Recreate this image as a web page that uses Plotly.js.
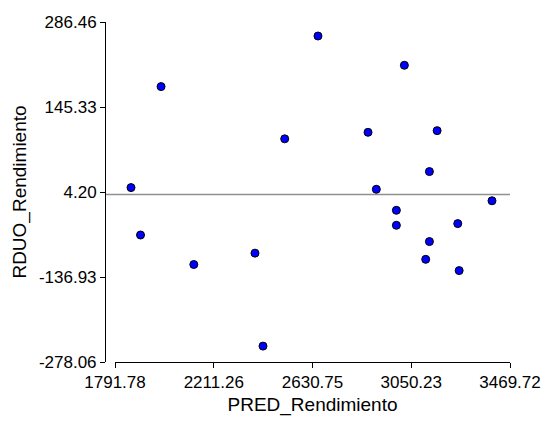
<!DOCTYPE html>
<html>
<head>
<meta charset="utf-8">
<script src="https://cdn.plot.ly/plotly-3.0.1.min.js"></script>
<style>html,body{margin:0;padding:0;background:#fff;}#chart{width:547px;height:421px;}</style>
</head>
<body>
<div id="chart"></div>
<script>
// Predicted values (x) and residuals (y)
const predRendimiento = [1859.8, 1900.2, 1987.4, 2126.5, 2386.4, 2420.5, 2512.7, 2654.0, 2866.6, 2901.9,
                         2987.0, 2987.0, 3021.0, 3111.6, 3127.4, 3127.4, 3160.1, 3247.8, 3253.7, 3393.2];
const rduoRendimiento = [11.5, -67.2, 179.2, -116.2, -97.3, -251.7, 92.5, 263.2, 103.3, 8.7,
                         -26.2, -51.1, 214.6, -107.6, 38.1, -78.1, 106.1, -48.3, -126.3, -10.4];
const xTickVals = [1791.78, 2211.26, 2630.75, 3050.23, 3469.72];
const xTickText = ["1791.78", "2211.26", "2630.75", "3050.23", "3469.72"];
const yTickVals = [286.46, 145.33, 4.20, -136.93, -278.06];
const yTickText = ["286.46", "145.33", "4.20", "-136.93", "-278.06"];
const referenceLevel = [0];

const font = "Liberation Sans, Arial, sans-serif";

const trace = {
  type: "scatter",
  mode: "markers",
  x: predRendimiento,
  y: rduoRendimiento,
  marker: {size: 8, color: "#0000FF", line: {color: "#000000", width: 1}},
  cliponaxis: false,
  hoverinfo: "x+y"
};

const layout = {
  width: 547,
  height: 421,
  margin: {l: 105, r: 37, t: 22, b: 59, pad: 0},
  paper_bgcolor: "#ffffff",
  plot_bgcolor: "#ffffff",
  showlegend: false,
  font: {family: font, color: "#000000", size: 17},
  xaxis: {
    domain: [10 / 405, 1],
    range: [xTickVals[0], xTickVals[xTickVals.length - 1]],
    tickvals: xTickVals,
    ticktext: xTickText,
    showline: true, linecolor: "#000000", linewidth: 1,
    ticks: "outside", ticklen: 5, tickwidth: 1, tickcolor: "#000000",
    showgrid: false, zeroline: false,
    tickfont: {family: font, size: 17, color: "#000000"},
    title: {text: "PRED_Rendimiento", font: {family: font, size: 19, color: "#000000"}, standoff: 6}
  },
  yaxis: {
    anchor: "free",
    position: 0,
    range: [yTickVals[yTickVals.length - 1], yTickVals[0]],
    tickvals: yTickVals,
    ticktext: yTickText,
    showline: true, linecolor: "#000000", linewidth: 1,
    ticks: "outside", ticklen: 5, tickwidth: 1, tickcolor: "#000000",
    showgrid: false, zeroline: false,
    tickfont: {family: font, size: 17, color: "#000000"},
    title: {text: "RDUO_Rendimiento", font: {family: font, size: 19, color: "#000000"}, standoff: 6}
  },
  shapes: referenceLevel.map(v => ({
    type: "line", xref: "paper", yref: "y",
    x0: 0, x1: 1, y0: v, y1: v,
    line: {color: "#909090", width: 1.5},
    layer: "below"
  }))
};

Plotly.newPlot("chart", [trace], layout, {staticPlot: true, displayModeBar: false});
</script>
</body>
</html>
